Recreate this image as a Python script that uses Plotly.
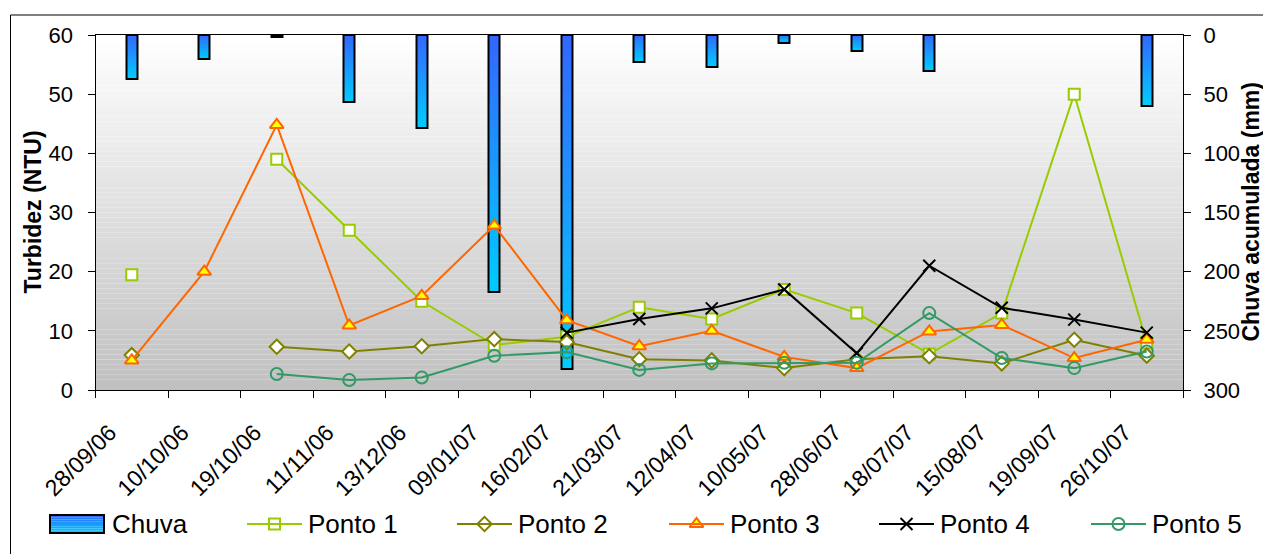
import plotly.graph_objects as go

# ---------------- data ----------------
datas = ["28/09/06", "10/10/06", "19/10/06", "11/11/06", "13/12/06", "09/01/07",
         "16/02/07", "21/03/07", "12/04/07", "10/05/07", "28/06/07", "18/07/07",
         "15/08/07", "19/09/07", "26/10/07"]
chuva = [37.5, 20.6, 2.0, 56.3, 78.3, 217.0, 282.0, 22.5, 26.8, 7.0, 13.5, 30.1, 0, 0, 59.7]
ponto1 = [19.5, None, 39.0, 27.0, 15.0, 7.6, 9.0, 14.0, 12.0, 17.0, 13.0, 6.1, 13.0, 50.0, 8.0]
ponto2 = [5.9, None, 7.3, 6.5, 7.4, 8.6, 8.1, 5.2, 5.0, 3.7, 5.2, 5.7, 4.5, 8.5, 5.8]
ponto3 = [5.0, 20.0, 44.8, 10.9, 15.9, 27.8, 11.8, 7.4, 10.0, 5.6, 3.7, 9.9, 11.0, 5.4, 8.5]
ponto4 = [None, None, None, None, None, None, 9.7, 12.0, 13.8, 17.0, 6.2, 21.0, 13.9, 11.9, 9.7]
ponto5 = [None, None, 2.7, 1.7, 2.1, 5.8, 6.4, 3.4, 4.5, 4.6, 4.6, 13.0, 5.4, 3.7, 6.5]
y_left_ticks = [0, 10, 20, 30, 40, 50, 60]
y_right_ticks = [0, 50, 100, 150, 200, 250, 300]

# ---------------- geometry / style ----------------
W, H = 1263, 554
PX0, PX1, PY0, PY1 = 95.5, 1183.0, 35.0, 390.0   # plot area in pixels
FONT = "Liberation Sans, Arial, sans-serif"


def px(x):
    return x / W


def py(y):
    return 1 - y / H


def lerp_color(c0, c1, t):
    return "rgb(%d,%d,%d)" % tuple(round(a + (b - a) * t) for a, b in zip(c0, c1))


BLUE = (0x33, 0x66, 0xFF)
CYAN = (0x00, 0xCC, 0xFF)
CLEAR = "rgba(0,0,0,0)"

series = [
    ("Ponto 1", ponto1, dict(color="#99CC00", symbol="square", fill="white", size=11)),
    ("Ponto 2", ponto2, dict(color="#808000", symbol="diamond", fill="white", size=11)),
    ("Ponto 3", ponto3, dict(color="#FF6600", symbol="triangle-up", fill="#FFFF00", size=12)),
    ("Ponto 4", ponto4, dict(color="#000000", symbol="x-thin", fill="#000000", size=12)),
    ("Ponto 5", ponto5, dict(color="#339966", symbol="circle", fill=CLEAR, size=12)),
]

fig = go.Figure()

# ---- rain bars (gradient built from stacked slices of each value) ----
rain = [v if v else None for v in chuva]
N = 30
for k in range(N):
    col = lerp_color(BLUE, CYAN, (k + 0.5) / N)
    fig.add_trace(go.Bar(
        x=datas, y=[None if v is None else v / N for v in rain],
        base=[None if v is None else v * k / N for v in rain],
        width=0.15, marker=dict(color=col, line=dict(width=0)),
        xaxis="x", yaxis="y", showlegend=False, hoverinfo="skip"))
fig.add_trace(go.Bar(
    x=datas, y=rain, base=[0] * len(rain), width=0.15, name="Chuva",
    marker=dict(color=CLEAR, line=dict(color="black", width=2)),
    xaxis="x", yaxis="y", showlegend=False))

# ---- turbidity lines ----
for name, vals, st in series:
    fig.add_trace(go.Scatter(
        x=datas, y=vals, name=name, mode="lines+markers",
        line=dict(color=st["color"], width=2),
        marker=dict(symbol=st["symbol"], size=st["size"], color=st["fill"],
                    line=dict(color=st["color"], width=2)),
        xaxis="x", yaxis="y2", showlegend=False, cliponaxis=False))

# ---------------- manual legend ----------------
LEG_Y = 524
starts = [50, 247, 457, 669, 879, 1091]
SYM_W = 55
shapes = []
annotations = []

# Chuva swatch
nb = 8
for i in range(nb):
    shapes.append(dict(type="rect", xref="paper", yref="paper",
                       x0=px(starts[0]), x1=px(starts[0] + 54),
                       y0=py(515 + 18 * i / nb), y1=py(515 + 18 * (i + 1) / nb),
                       fillcolor=lerp_color(BLUE, CYAN, (i + 0.5) / nb),
                       line=dict(width=0), layer="above"))
shapes.append(dict(type="rect", xref="paper", yref="paper",
                   x0=px(starts[0]), x1=px(starts[0] + 54), y0=py(515), y1=py(533),
                   line=dict(color="black", width=2), layer="above"))
annotations.append(dict(text="Chuva", xref="paper", yref="paper", x=px(starts[0] + 60),
                        y=py(LEG_Y), xanchor="left", yanchor="middle", showarrow=False,
                        font=dict(family=FONT, size=26, color="black")))

for (name, vals, st), s in zip(series, starts[1:]):
    shapes.append(dict(type="line", xref="paper", yref="paper",
                       x0=px(s), x1=px(s + SYM_W), y0=py(LEG_Y), y1=py(LEG_Y),
                       line=dict(color=st["color"], width=2), layer="above"))
    fig.add_trace(go.Scatter(
        x=[s + SYM_W / 2], y=[LEG_Y], mode="markers", xaxis="x3", yaxis="y3",
        marker=dict(symbol=st["symbol"], size=st["size"],
                    color="white" if st["fill"] == CLEAR else st["fill"],
                    line=dict(color=st["color"], width=2)),
        showlegend=False, hoverinfo="skip"))
    annotations.append(dict(text=name, xref="paper", yref="paper", x=px(s + SYM_W + 4),
                            y=py(LEG_Y), xanchor="left", yanchor="middle", showarrow=False,
                            font=dict(family=FONT, size=26, color="black")))

# ---------------- background gradient + border ----------------
nbg = 70
for i in range(nbg):
    y0 = PY0 + (PY1 - PY0) * i / nbg
    y1 = PY0 + (PY1 - PY0) * (i + 1) / nbg
    shapes.insert(0, dict(type="rect", xref="paper", yref="paper",
                          x0=px(PX0), x1=px(PX1), y0=py(y0), y1=py(y1),
                          fillcolor=lerp_color((255, 255, 255), (192, 192, 192), (i + 0.5) / nbg),
                          line=dict(width=0), layer="below"))
shapes.append(dict(type="rect", xref="paper", yref="paper",
                   x0=px(10.5), x1=px(1270), y0=py(15), y1=py(560),
                   line=dict(color="black", width=1), fillcolor=CLEAR, layer="below"))

# ---------------- axis titles ----------------
annotations.append(dict(text="<b>Turbidez (NTU)</b>", xref="paper", yref="paper",
                        x=px(32), y=py((PY0 + PY1) / 2), textangle=-90, showarrow=False,
                        xanchor="center", yanchor="middle",
                        font=dict(family=FONT, size=23, color="black")))
annotations.append(dict(text="<b>Chuva acumulada (mm)</b>", xref="paper", yref="paper",
                        x=px(1250), y=py((PY0 + PY1) / 2), textangle=-90, showarrow=False,
                        xanchor="center", yanchor="middle",
                        font=dict(family=FONT, size=23, color="black")))

axis_common = dict(showgrid=False, zeroline=False, showline=True, linecolor="black",
                   linewidth=1, ticks="outside", ticklen=7, tickwidth=1, tickcolor="black",
                   automargin=False, tickfont=dict(family=FONT, size=22, color="black"))

fig.update_layout(
    width=W, height=H, margin=dict(l=0, r=0, t=0, b=0, pad=0),
    paper_bgcolor="white", plot_bgcolor=CLEAR,
    barmode="overlay", bargap=0, showlegend=False,
    font=dict(family=FONT, color="black"),
    xaxis=dict(domain=[px(PX0), px(PX1)], type="category", range=[-0.5, 14.5],
               tickson="boundaries", tickangle=-45, mirror=True, anchor="y",
               ticklabelstandoff=19, ticklabelshift=-22,
               **{**axis_common, "tickfont": dict(family=FONT, size=23, color="black")}),
    yaxis=dict(domain=[py(PY1), py(PY0)], range=[300, 0], side="right", anchor="x",
               tickvals=y_right_ticks, ticklabelstandoff=8, **axis_common),
    yaxis2=dict(domain=[py(PY1), py(PY0)], range=[0, 60], side="left", overlaying="y",
                anchor="x", tickvals=y_left_ticks, ticklabelstandoff=10, **axis_common),
    xaxis3=dict(domain=[0, 1], range=[0, W], visible=False, anchor="y3", fixedrange=True),
    yaxis3=dict(domain=[0, 1], range=[H, 0], visible=False, anchor="x3", fixedrange=True),
    shapes=shapes, annotations=annotations,
)

fig.write_html("out.html", config={"displayModeBar": False},
               post_script="document.body.style.margin='0';")
